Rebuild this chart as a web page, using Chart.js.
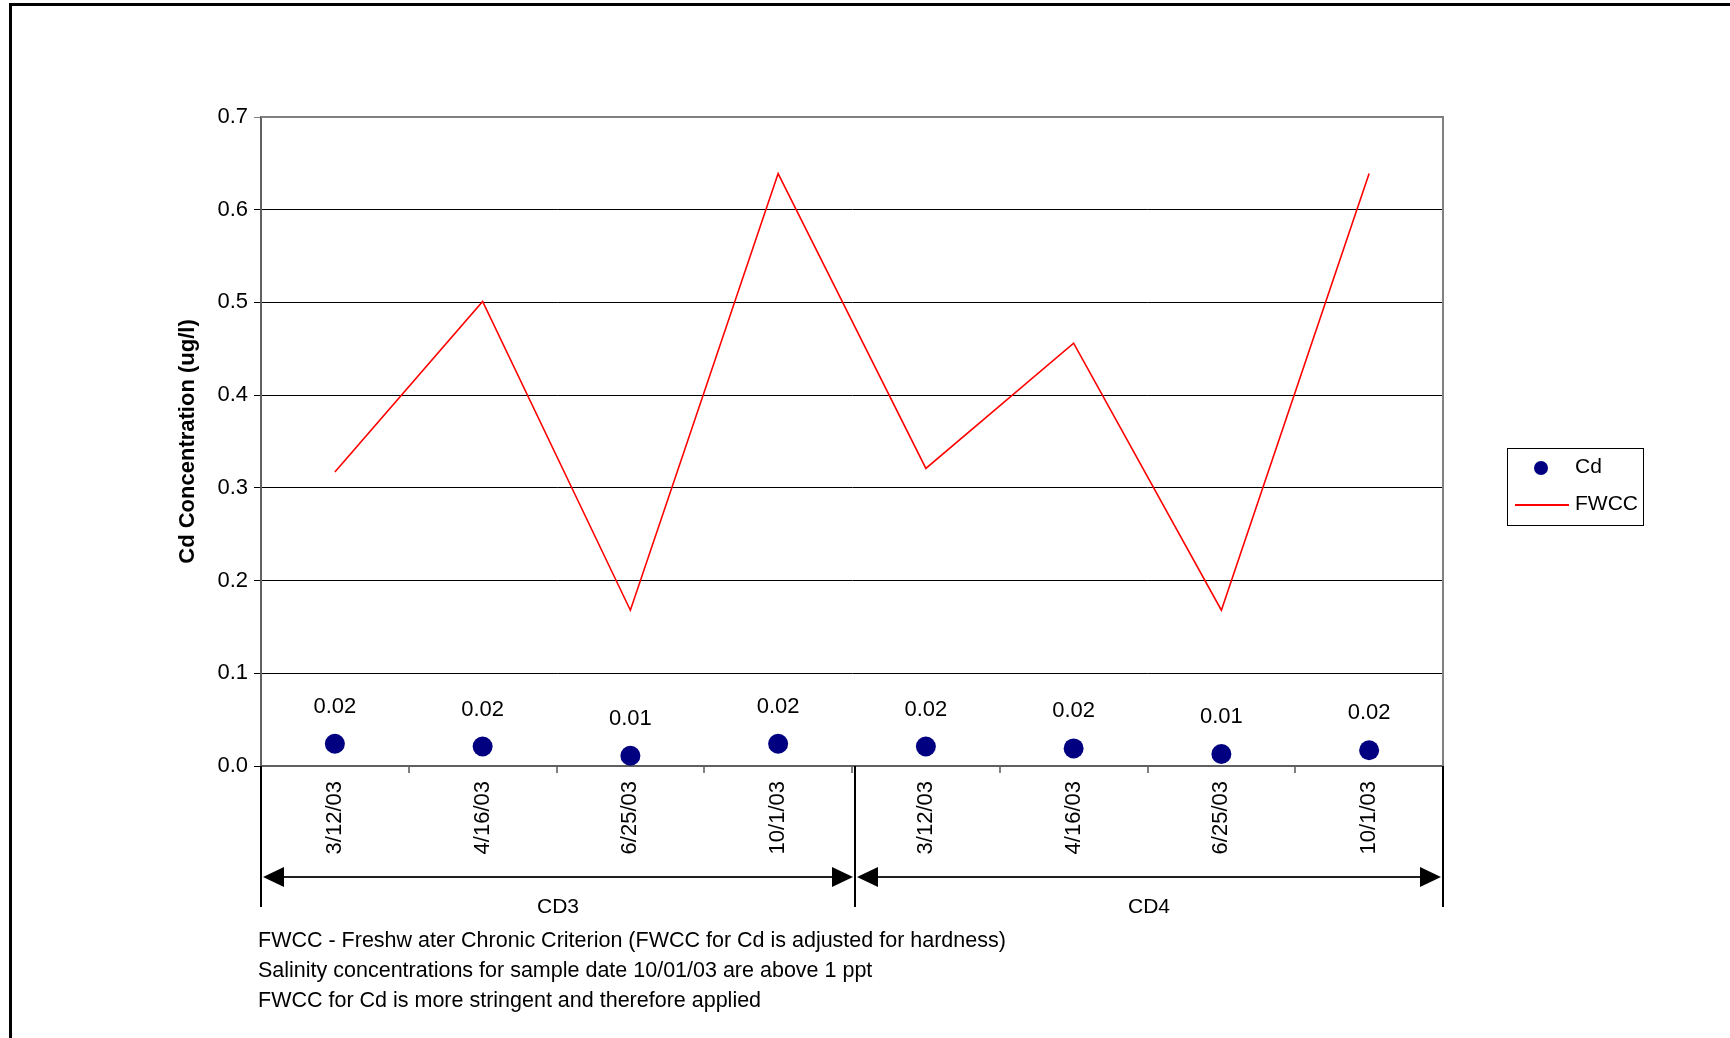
<!DOCTYPE html>
<html>
<head>
<meta charset="utf-8">
<script src="https://cdn.jsdelivr.net/npm/chart.js@4/dist/chart.umd.min.js"></script>
<style>
  html, body { margin: 0; padding: 0; background: #fff; }
  #wrap { width: 1730px; height: 1038px; }
</style>
</head>
<body>
<div id="wrap"><canvas id="cdChart" width="1730" height="1038"></canvas></div>
<script>
const dates = ["3/12/03", "4/16/03", "6/25/03", "10/1/03", "3/12/03", "4/16/03", "6/25/03", "10/1/03"];
const stations = ["CD3", "CD4"];
const cdValues = [0.024, 0.021, 0.011, 0.024, 0.021, 0.019, 0.013, 0.017];
const cdLabels = ["0.02", "0.02", "0.01", "0.02", "0.02", "0.02", "0.01", "0.02"];
const fwccValues = [0.317, 0.501, 0.168, 0.639, 0.321, 0.456, 0.168, 0.639];
const notes = [
  "FWCC - Freshw ater Chronic Criterion (FWCC for Cd is adjusted for hardness)",
  "Salinity concentrations for sample date 10/01/03 are above 1 ppt",
  "FWCC for Cd is more stringent and therefore applied"
];

const FONT = "'Liberation Sans', Arial, sans-serif";

// frame, plot border, group arrows, notes, legend, point labels
const extras = {
  id: "extras",
  beforeDraw(chart) {
    const c = chart.ctx;
    c.save();
    c.fillStyle = "#fff";
    c.fillRect(0, 0, chart.width, chart.height);
    c.fillStyle = "#000";
    c.fillRect(9, 3, chart.width - 9, 3);
    c.fillRect(9, 3, 3, chart.height - 3);
    c.restore();
  },
  afterDraw(chart) {
    const c = chart.ctx;
    const a = chart.chartArea;
    const x = chart.scales.x;
    c.save();

    // top and right border of plot area
    c.strokeStyle = "#808080";
    c.lineWidth = 2;
    c.beginPath();
    c.moveTo(a.left, a.top);
    c.lineTo(a.right, a.top);
    c.lineTo(a.right, a.bottom);
    c.stroke();

    // group separators and arrows
    const half = (x.getPixelForValue(1) - x.getPixelForValue(0)) / 2;
    const per = dates.length / stations.length;
    const arrowY = a.bottom + 111;
    const lineBottom = a.bottom + 141;
    const edges = [];
    for (let g = 0; g <= stations.length; g++) {
      let px;
      if (g * per >= dates.length) px = x.getPixelForValue(dates.length - 1) + half;
      else px = x.getPixelForValue(g * per) - half;
      if (g > 0 && g < stations.length) px += 3;
      edges.push(px);
    }
    c.strokeStyle = "#000";
    c.lineWidth = 2;
    edges.forEach(px => {
      c.beginPath();
      c.moveTo(px, a.bottom);
      c.lineTo(px, lineBottom);
      c.stroke();
    });
    c.font = "21px " + FONT;
    c.textAlign = "center";
    c.textBaseline = "middle";
    for (let g = 0; g < stations.length; g++) {
      const x0 = edges[g] + 2, x1 = edges[g + 1] - 2;
      c.strokeStyle = "#202020";
      c.lineWidth = 2;
      c.beginPath();
      c.moveTo(x0 + 18, arrowY);
      c.lineTo(x1 - 18, arrowY);
      c.stroke();
      c.fillStyle = "#000";
      c.beginPath();
      c.moveTo(x0, arrowY);
      c.lineTo(x0 + 21, arrowY - 10);
      c.lineTo(x0 + 21, arrowY + 10);
      c.closePath();
      c.fill();
      c.beginPath();
      c.moveTo(x1, arrowY);
      c.lineTo(x1 - 21, arrowY - 10);
      c.lineTo(x1 - 21, arrowY + 10);
      c.closePath();
      c.fill();
      c.fillText(stations[g], (edges[g] + edges[g + 1]) / 2, a.bottom + 141);
    }

    // notes
    c.font = "21.5px " + FONT;
    c.textAlign = "left";
    notes.forEach((t, i) => c.fillText(t, a.left - 3, a.bottom + 175 + i * 30));

    // point labels for Cd
    const meta = chart.getDatasetMeta(0);
    c.textAlign = "center";
    c.textBaseline = "alphabetic";
    c.font = "22px " + FONT;
    meta.data.forEach((pt, i) => c.fillText(cdLabels[i], pt.x, pt.y - 31));

    // legend
    const lx = 1507, ly = 448, lw = 136, lh = 77;
    c.strokeStyle = "#000";
    c.lineWidth = 1;
    c.strokeRect(lx + 0.5, ly + 0.5, lw, lh);
    const ds = chart.data.datasets;
    c.fillStyle = ds[0].backgroundColor;
    c.beginPath();
    c.arc(lx + 34, ly + 20, 7, 0, Math.PI * 2);
    c.fill();
    c.strokeStyle = ds[1].borderColor;
    c.lineWidth = 2;
    c.beginPath();
    c.moveTo(lx + 8, ly + 57);
    c.lineTo(lx + 62, ly + 57);
    c.stroke();
    c.fillStyle = "#000";
    c.font = "21px " + FONT;
    c.textAlign = "left";
    c.textBaseline = "middle";
    c.fillText(ds[0].label, lx + 68, ly + 19);
    c.fillText(ds[1].label, lx + 68, ly + 56);
    c.restore();
  }
};

new Chart(document.getElementById("cdChart"), {
  type: "line",
  data: {
    labels: dates,
    datasets: [
      {
        label: "Cd",
        data: cdValues,
        showLine: false,
        pointRadius: 10,
        pointHoverRadius: 10,
        backgroundColor: "#000080",
        borderColor: "#000080",
        pointBorderWidth: 0
      },
      {
        label: "FWCC",
        data: fwccValues,
        borderColor: "#ff0000",
        borderWidth: 1.6,
        pointRadius: 0,
        fill: false,
        tension: 0
      }
    ]
  },
  options: {
    responsive: false,
    animation: false,
    layout: { padding: { left: 171, top: 117, right: 287, bottom: 0 } },
    plugins: { legend: { display: false }, tooltip: { enabled: false } },
    scales: {
      x: {
        offset: true,
        afterFit: s => { s.height = 272; },
        border: { color: "#606060", width: 2 },
        grid: { offset: true, drawOnChartArea: false, tickLength: 7, color: "#808080", lineWidth: 2 },
        ticks: {
          autoSkip: false,
          minRotation: 90,
          maxRotation: 90,
          padding: 8,
          color: "#000",
          font: { family: FONT, size: 22 }
        }
      },
      y: {
        min: 0,
        max: 0.7,
        afterFit: s => { s.width = 90; },
        border: { color: "#606060", width: 2 },
        grid: {
          color: ctx => (ctx.tick && ctx.tick.value >= 0.7 ? "#808080" : "#000"),
          lineWidth: 1,
          tickLength: 7
        },
        ticks: {
          stepSize: 0.1,
          padding: 6,
          color: "#000",
          font: { family: FONT, size: 22 },
          callback: v => v.toFixed(1)
        },
        title: {
          display: true,
          text: "Cd Concentration (ug/l)",
          color: "#000",
          font: { family: FONT, size: 22, weight: "bold" },
          padding: { top: 4, bottom: 4 }
        }
      }
    }
  },
  plugins: [extras]
});
</script>
</body>
</html>
